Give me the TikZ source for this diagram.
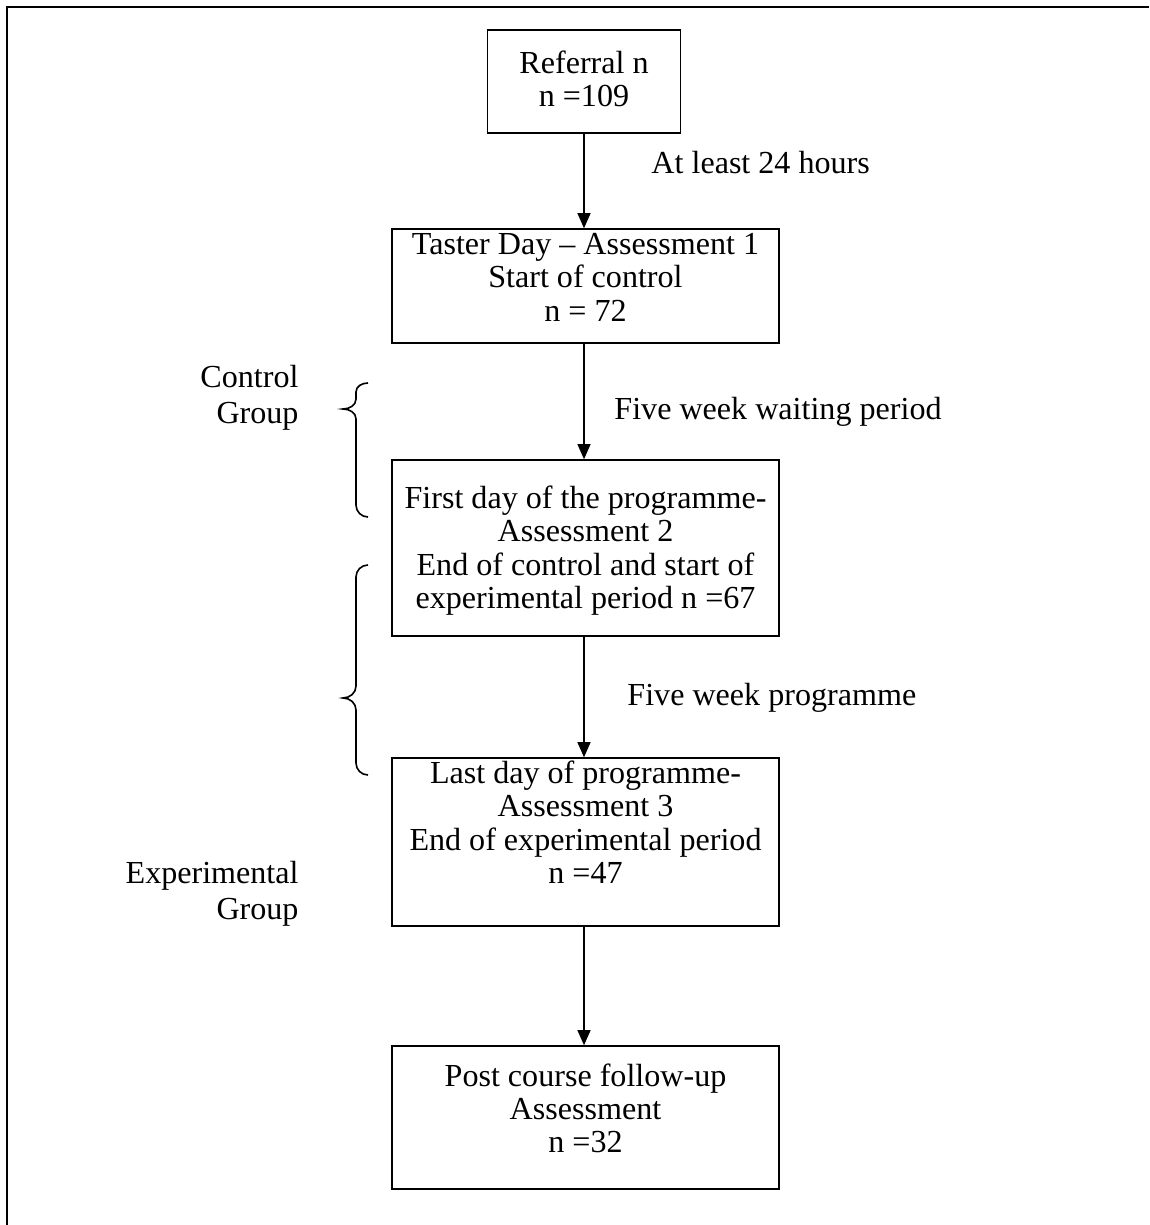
\documentclass[tikz,border=0pt]{standalone}
\usepackage{fontspec}
\setmainfont{Liberation Serif}
\usetikzlibrary{arrows.meta, positioning}
% box text sits a little above the middle of its box
\newcommand{\lifted}[2]{\raisebox{#1}[\height][\depth]{\begin{tabular}{@{}c@{}}#2\end{tabular}}}
\tikzset{
  box/.style={rectangle, draw=black, line width=0.6pt, align=center, font=\fontsize{13.8}{14.3}\selectfont,
              minimum width=166.4pt, inner sep=2pt},
  flow/.style={-{Triangle[length=6.5pt, width=5.5pt]}, line width=0.8pt},
  note/.style={font=\fontsize{13.8}{14.3}\selectfont, inner sep=0pt},
  grp/.style={font=\fontsize{13.8}{15.5}\selectfont, align=right, inner sep=0pt},
  brace/.style={line width=0.7pt}
}

\begin{document}
\begin{tikzpicture}[x=0.43pt, y=-0.43pt]
  \useasboundingbox (0,0) rectangle (1149,1225);
  \draw[line width=0.9pt] (1149,7) -- (7,7) -- (7,1225);

  \node[box, minimum width=83pt, minimum height=44.3pt] (ref) at (584,81.5) {\lifted{-0.7pt}{Referral n\\n =109}};
  \node[box, minimum height=49pt] (taster) at (585.5,286) {\lifted{2pt}{Taster Day -- Assessment 1\\Start of control\\n = 72}};
  \node[box, minimum height=75.7pt] (first) at (585.5,548) {\lifted{-1.7pt}{First day of the programme-\\Assessment 2\\End of control and start of\\experimental period n =67}};
  \node[box, minimum height=72.2pt] (last) at (585.5,842) {\lifted{6.5pt}{Last day of programme-\\Assessment 3\\End of experimental period\\n =47}};
  \node[box, minimum height=61.5pt] (post) at (585.5,1117.5) {\lifted{2pt}{Post course follow-up\\Assessment\\n =32}};

  \draw[flow] (ref.south) -- (ref.south |- taster.north);
  \draw[flow] (taster.south -| ref.south) -- (ref.south |- first.north);
  \draw[flow] (first.south -| ref.south) -- (ref.south |- last.north);
  \draw[flow] (last.south -| ref.south) -- (ref.south |- post.north);

  \node[note, anchor=west] (wait1) at (651,163) {At least 24 hours};
  \node[note, anchor=west] (wait2) at (614,412) {Five week waiting period};
  \node[note, anchor=west] (wait3) at (627,698) {Five week programme};

  \node[grp, anchor=east] (ctrl) at (299,398) {Control\\Group};
  \node[grp, anchor=east] (expt) at (299,894) {Experimental\\Group};

  % group braces
  \draw[brace] (368,383) to[out=180,in=90] (356,392) -- (356,399)
    to[out=-90,in=0] (343,409) to[out=0,in=90] (356,419) -- (356,505)
    to[out=-90,in=180] (368,517);
  \draw[brace] (368,565) to[out=180,in=90] (356,577) -- (356,686)
    to[out=-90,in=0] (343,698) to[out=0,in=90] (356,710) -- (356,763)
    to[out=-90,in=180] (368,775);
\end{tikzpicture}
\end{document}
